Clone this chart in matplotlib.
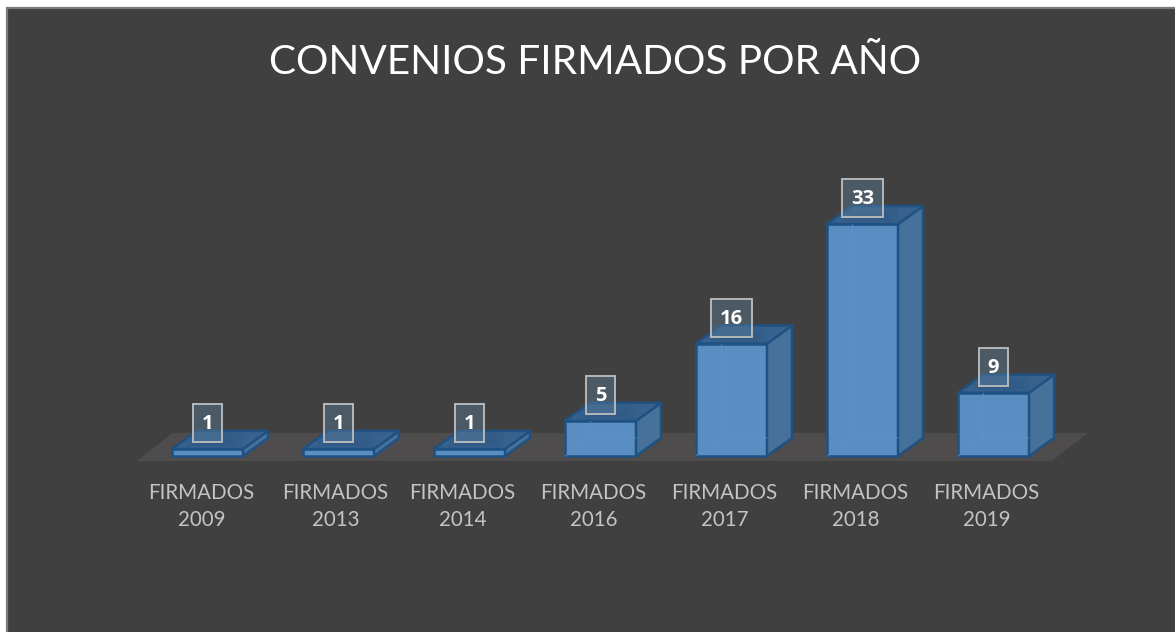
import matplotlib
matplotlib.use('Agg')
import matplotlib.pyplot as plt
from matplotlib.patches import Polygon, Rectangle

plt.rcParams['font.family'] = ['Lato', 'DejaVu Sans']

# Datos
anios = ['2009', '2013', '2014', '2016', '2017', '2018', '2019']
firmados = [1, 1, 1, 5, 16, 33, 9]
titulo = 'CONVENIOS FIRMADOS POR AÑO'
# ajuste en pixeles del texto de cada categoria
ajuste_eje = [-6, -3, -7, -7, -7, -7, -7]

W, H = 1175, 632
fig = plt.figure(figsize=(W / 100, H / 100), dpi=100, facecolor='white')
ax = fig.add_axes([0, 0, 1, 1])
ax.axis('off')

# Escala: categoria -> pixel, valor -> pixel
paso_x = 131.0
px_y = 7.03
x0 = 207.5
y0 = 456.0
ax.set_xlim(-x0 / paso_x, (W - x0) / paso_x)
ax.set_ylim((y0 - H) / px_y, y0 / px_y)

dx_px = 1 / paso_x
dy_px = 1 / px_y
xmin, xmax = ax.get_xlim()
ymin, ymax = ax.get_ylim()

# Fondo del grafico
ax.add_patch(Rectangle((xmin + 6.5 * dx_px, ymin - 5 * dy_px),
                       (W + 10) * dx_px, (H - 7.5 + 5) * dy_px,
                       facecolor='#404040', edgecolor='#7a7a7a', linewidth=1.6, zorder=0))

# Suelo
ancho = 71 * dx_px
prof_x = 25 * dx_px
prof_y = 18 * dy_px
ax.add_patch(Polygon([((137 - x0) * dx_px, -5 * dy_px),
                      ((1052 - x0) * dx_px, -5 * dy_px),
                      ((1088 - x0) * dx_px, 23 * dy_px),
                      ((172 - x0) * dx_px, 23 * dy_px)],
                     facecolor='#4e4c4c', edgecolor='none', zorder=1))

borde = '#1f5283'
for i, v in enumerate(firmados):
    izq = i - ancho / 2
    der = i + ancho / 2
    # cara frontal
    ax.add_patch(Rectangle((izq, 0), ancho, v, facecolor='#5a8dc2', edgecolor=borde, linewidth=1.8,
                           zorder=3, joinstyle='round'))
    # aristas interiores, apenas visibles
    if v > 3:
        ax.plot([izq + prof_x, izq + prof_x], [prof_y, v], color='#5f95cc', lw=0.8, alpha=0.6, zorder=3.5)
        ax.plot([izq, izq + prof_x, der], [0, prof_y, prof_y], color='#5f95cc', lw=0.8, alpha=0.6, zorder=3.5)
    # cara lateral
    ax.add_patch(Polygon([(der, 0), (der + prof_x, prof_y), (der + prof_x, v + prof_y), (der, v)],
                         facecolor='#46719a', edgecolor=borde, linewidth=1.8, zorder=3, joinstyle='round'))
    # cara superior
    ax.add_patch(Polygon([(izq, v), (izq + prof_x, v + prof_y), (der + prof_x, v + prof_y), (der, v)],
                         facecolor='#37628e', edgecolor=borde, linewidth=1.8, zorder=3, joinstyle='round'))
    # sombra bajo la etiqueta, en capas para que quede difusa
    for m in (0, 5, 10):
        ax.add_patch(Rectangle((izq + (14 + m) * dx_px, v + (1 + m * 0.3) * dy_px), ancho - (28 + 2 * m - 14) * dx_px,
                               (16 - m) * dy_px, facecolor='#2b537c', alpha=0.14, edgecolor='none', zorder=4))
    # etiqueta de datos
    etiqueta = str(v)
    w_caja = (41 if len(etiqueta) > 1 else 29) * dx_px
    h_caja = 38 * dy_px
    yc = v + 26 * dy_px
    ax.add_patch(Rectangle((i - w_caja / 2, yc - h_caja / 2), w_caja, h_caja,
                           facecolor='#5f7f9c', alpha=0.42, edgecolor='none', zorder=5))
    ax.add_patch(Rectangle((i - w_caja / 2, yc - h_caja / 2), w_caja, h_caja,
                           facecolor='none', edgecolor='#b4b8bb', linewidth=1.4, zorder=6))
    ax.text(i, yc - 1 * dy_px, etiqueta, color='white', fontsize=14.5, fontweight='bold',
            family=['Open Sans', 'DejaVu Sans'], ha='center', va='center', zorder=7)
    # eje
    ax.text(i + ajuste_eje[i] * dx_px, -37 * dy_px, 'FIRMADOS', color='#c4c4c4', fontsize=14.8,
            ha='center', va='center', zorder=7)
    ax.text(i + ajuste_eje[i] * dx_px, -64 * dy_px, anios[i], color='#c4c4c4', fontsize=14.8,
            ha='center', va='center', zorder=7)

ax.text((595.5 - x0) * dx_px, (y0 - 62) * dy_px, titulo, color='white', fontsize=29.2,
        ha='center', va='center', zorder=7)

fig.savefig('out.png', dpi=100, facecolor='white')
